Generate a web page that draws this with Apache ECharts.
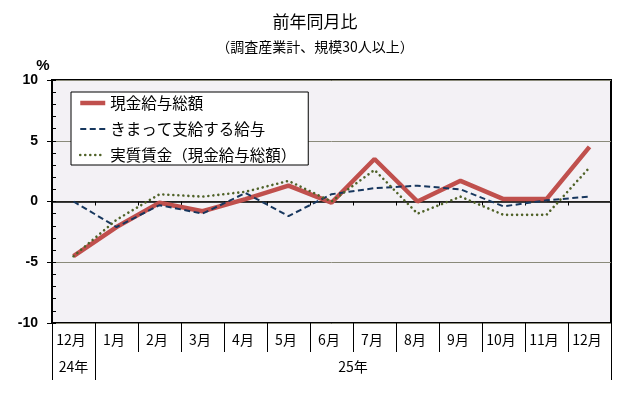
<!DOCTYPE html>
<html><head><meta charset="utf-8">
<script src="https://cdn.jsdelivr.net/npm/echarts@6/dist/echarts.min.js"></script>
<style>html,body{margin:0;padding:0;background:#fff}#c{width:630px;height:400px}</style>
</head><body><div id="c"></div>
<script>
const categories = ['12月','1月','2月','3月','4月','5月','6月','7月','8月','9月','10月','11月','12月'];
const yearLabels = ['24年','25年'];
const yearLabelPositions = [0.5, 7];
const yearBoundaries = [0, 1, 13];
const seriesNames = ['現金給与総額','きまって支給する給与','実質賃金（現金給与総額）'];
const totalCash = [-4.5, -2.1, -0.1, -0.8, 0.2, 1.3, -0.1, 3.5, 0.0, 1.7, 0.2, 0.2, 4.5];
const scheduled = [0.0, -2.1, -0.3, -1.0, 0.7, -1.2, 0.6, 1.1, 1.3, 1.0, -0.4, 0.1, 0.4];
const realWage = [-4.5, -1.5, 0.6, 0.4, 0.8, 1.7, 0.0, 2.6, -1.0, 0.4, -1.1, -1.1, 2.8];
const yMin = -10, yMax = 10, yStep = 5;

const JP = '"Noto Sans CJK JP", sans-serif';
const lineStyles = [
  {color: '#C0504D', width: 4.5},
  {color: '#17375E', width: 2, type: [6, 3.5]},
  {color: '#4F6228', width: 2.6, type: [0.01, 5], cap: 'round'}
];
const chart = echarts.init(document.getElementById('c'));
chart.setOption({
  animation: false,
  backgroundColor: '#fff',
  title: [
    {text: '前年同月比', left: 'center', top: 8,
     textStyle: {fontFamily: JP, fontSize: 17, fontWeight: 'normal', color: '#000'}},
    {text: '（調査産業計、規模30人以上）', left: 'center', top: 35,
     textStyle: {fontFamily: JP, fontSize: 14, fontWeight: 'normal', color: '#000'}}
  ],
  legend: {
    orient: 'vertical', left: 71, top: 92,
    data: seriesNames.map((n, i) => ({name: n, lineStyle: Object.assign({}, lineStyles[i])})),
    itemWidth: 25, itemHeight: 14, itemGap: 8, padding: [2, 12, 1, 7],
    itemStyle: {color: 'transparent', borderColor: 'transparent', borderWidth: 0, opacity: 0},
    backgroundColor: '#fff', borderColor: '#000', borderWidth: 1, borderRadius: 0,
    textStyle: {fontFamily: JP, fontSize: 15.5, color: '#000', lineHeight: 18}
  },
  grid: {left: 52, top: 80, width: 559, height: 243, show: true,
         backgroundColor: '#F3F1F5', borderColor: '#000', borderWidth: 2},
  xAxis: [
    {type: 'category', data: categories, position: 'bottom', boundaryGap: true,
     axisLine: {onZero: true, onZeroAxisIndex: 0, lineStyle: {color: '#000', width: 1.5}},
     axisTick: {show: true, interval: 0, length: 4, lineStyle: {color: '#000'}},
     axisLabel: {show: false}, splitLine: {show: false}},
    {type: 'category', data: categories, position: 'bottom', boundaryGap: true,
     axisLine: {show: false, onZero: false},
     axisTick: {show: true, interval: 0, length: 29, lineStyle: {color: '#000', width: 1}},
     axisLabel: {interval: 0, margin: 10,
       formatter: v => '{a|' + v + '}',
       rich: {a: {fontFamily: JP, fontSize: 14, color: '#000', padding: [0, 5, 0, 0]}}},
     splitLine: {show: false}},
    {type: 'value', min: 0, max: categories.length, position: 'bottom',
     axisLine: {show: false, onZero: false},
     axisTick: {show: true, customValues: yearBoundaries, length: 57, lineStyle: {color: '#000', width: 1}},
     axisLabel: {customValues: yearLabelPositions, margin: 37,
       formatter: v => yearLabels[yearLabelPositions.indexOf(v)],
       fontFamily: JP, fontSize: 14, color: '#000'},
     splitLine: {show: false}}
  ],
  yAxis: [
    {type: 'value', min: yMin, max: yMax, interval: yStep, position: 'left',
     name: '%', nameLocation: 'end', nameGap: 7,
     nameTextStyle: {fontFamily: 'Liberation Sans', fontWeight: 'bold', fontSize: 15, color: '#000', padding: [0, 18, 0, 0]},
     axisLine: {show: true, onZero: false, lineStyle: {color: '#000', width: 2}},
     axisTick: {show: true, length: 5, lineStyle: {color: '#000'}},
     axisLabel: {margin: 14, fontFamily: 'Liberation Sans', fontWeight: 'bold', fontSize: 14, color: '#000'},
     splitLine: {show: true, lineStyle: {color: '#8A8A7A', width: 1}}},
    {type: 'value', min: yMin, max: yMax, interval: 1, position: 'left',
     axisLine: {show: false, onZero: false},
     axisTick: {show: true, inside: true, length: 4, lineStyle: {color: '#000'}},
     axisLabel: {show: false}, splitLine: {show: false}}
  ],
  series: [
    {name: seriesNames[0], type: 'line', data: totalCash, xAxisIndex: 0, yAxisIndex: 0,
     symbol: 'none', lineStyle: lineStyles[0], itemStyle: {color: lineStyles[0].color}},
    {name: seriesNames[1], type: 'line', data: scheduled, xAxisIndex: 0, yAxisIndex: 0,
     symbol: 'none', lineStyle: lineStyles[1], itemStyle: {color: lineStyles[1].color}},
    {name: seriesNames[2], type: 'line', data: realWage, xAxisIndex: 0, yAxisIndex: 0,
     symbol: 'none', lineStyle: lineStyles[2], itemStyle: {color: lineStyles[2].color}}
  ]
});
</script></body></html>
